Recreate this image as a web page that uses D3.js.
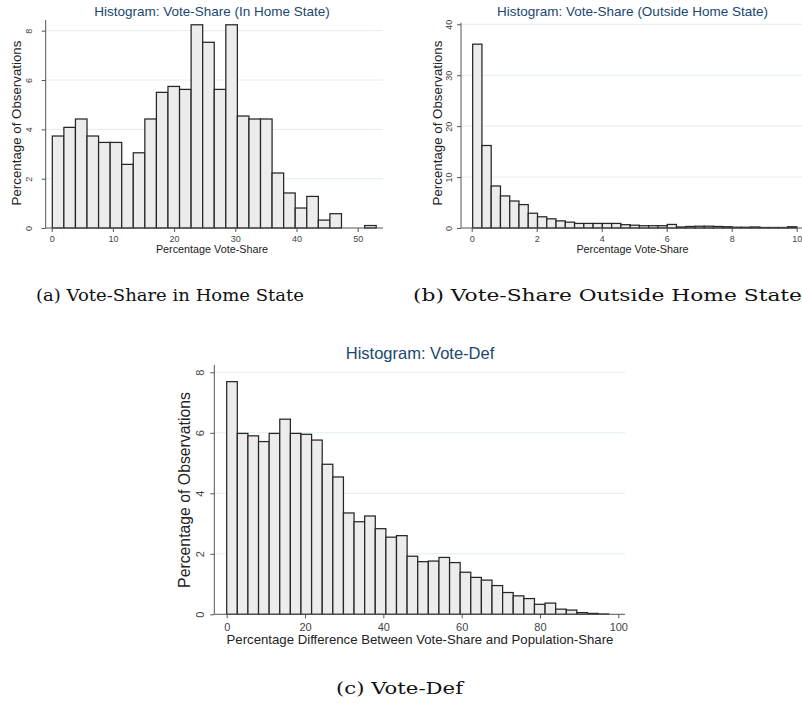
<!DOCTYPE html>
<html>
<head>
<meta charset="utf-8">
<script src="https://cdn.jsdelivr.net/npm/d3@7"></script>
<style>
  body { margin: 0; background: #fff; }
  svg { display: block; }
</style>
</head>
<body>
<svg id="fig" width="802" height="704"></svg>
<script>
// bar heights (percentage of observations)
var homeShare = [3.73, 4.08, 4.42, 3.73, 3.47, 3.47, 2.58, 3.05, 4.42, 5.5, 5.74, 5.62, 8.24, 7.53,
  5.62, 8.24, 4.54, 4.42, 4.42, 2.23, 1.42, 0.81, 1.28, 0.32, 0.58, 0, 0, 0.1];
var homeBin = { start: 0.1, width: 1.89 };

var outsideShare = [36.1, 16.2, 8.25, 6.3, 5.3, 4.6, 2.9, 2.2, 1.8, 1.4, 1.15, 0.9, 0.9, 0.9, 0.9,
  0.9, 0.65, 0.55, 0.45, 0.45, 0.45, 0.7, 0.2, 0.3, 0.35, 0.35, 0.3, 0.25, 0.15, 0.15, 0.2, 0.1,
  0.1, 0.1, 0.25];
var outsideBin = { start: 0.03, width: 0.285 };

var voteDef = [7.69, 5.98, 5.9, 5.71, 5.98, 6.45, 5.98, 5.95, 5.76, 4.96, 4.54, 3.35, 3.06, 3.25,
  2.83, 2.55, 2.6, 1.92, 1.74, 1.76, 1.88, 1.71, 1.39, 1.22, 1.13, 0.95, 0.72, 0.61, 0.52, 0.33,
  0.37, 0.17, 0.14, 0.055, 0.03, 0.01];
var defBin = { start: 0, width: 2.71 };

var homeXTicks = [0, 10, 20, 30, 40, 50], homeYTicks = [0, 2, 4, 6, 8];
var outsideXTicks = [0, 2, 4, 6, 8, 10], outsideYTicks = [0, 10, 20, 30, 40];
var defXTicks = [0, 20, 40, 60, 80, 100], defYTicks = [0, 2, 4, 6, 8];

var titles = ["Histogram: Vote-Share (In Home State)", "Histogram: Vote-Share (Outside Home State)",
  "Histogram: Vote-Def"];
var xTitles = ["Percentage Vote-Share", "Percentage Vote-Share",
  "Percentage Difference Between Vote-Share and Population-Share"];
var yTitle = "Percentage of Observations";
var captions = ["(a) Vote-Share in Home State", "(b)  Vote-Share Outside Home State", "(c)  Vote-Def"];

var svg = d3.select('#fig');
var sans = '"Liberation Sans", Arial, sans-serif';

function histogram(o) {
  var g = svg.append('g');
  var x = d3.scaleLinear().domain(o.xDom).range(o.xRange);
  var y = d3.scaleLinear().domain(o.yDom).range(o.yRange);

  // faint grid lines
  g.selectAll('line.grid').data(o.yTicks.filter(function (d) { return d > 0; }))
    .enter().append('line')
    .attr('x1', o.axisX[0]).attr('x2', o.axisX[1])
    .attr('y1', function (d) { return y(d); }).attr('y2', function (d) { return y(d); })
    .attr('stroke', '#e3eded').attr('stroke-width', 1);

  var bins = o.vals.map(function (v, i) {
    return { x0: o.bin.start + i * o.bin.width, x1: o.bin.start + (i + 1) * o.bin.width, v: v };
  }).filter(function (b) { return b.v > 0; });

  g.selectAll('rect').data(bins).enter().append('rect')
    .attr('x', function (d) { return x(d.x0); })
    .attr('width', function (d) { return x(d.x1) - x(d.x0); })
    .attr('y', function (d) { return y(d.v); })
    .attr('height', function (d) { return y(0) - y(d.v); })
    .attr('fill', '#ececec').attr('stroke', '#262626').attr('stroke-width', 1.25);

  // axis lines
  g.append('line').attr('x1', o.axisX[0]).attr('x2', o.axisX[1])
    .attr('y1', y(0)).attr('y2', y(0)).attr('stroke', '#555');
  g.append('line').attr('x1', o.axisX[0]).attr('x2', o.axisX[0])
    .attr('y1', y(0)).attr('y2', o.axisTop).attr('stroke', '#555');

  var xa = g.append('g').attr('transform', 'translate(0,' + y(0) + ')')
    .call(d3.axisBottom(x).tickValues(o.xTicks).tickSize(4));
  xa.select('.domain').remove();
  xa.selectAll('line').attr('stroke', '#555');
  xa.selectAll('text').attr('y', o.xLabOff).attr('dy', 0)
    .attr('font-family', sans).attr('font-size', o.tickFont).attr('fill', '#444');

  var ya = g.append('g').attr('transform', 'translate(' + o.axisX[0] + ',0)')
    .call(d3.axisLeft(y).tickValues(o.yTicks).tickSize(4));
  ya.select('.domain').remove();
  ya.selectAll('line').attr('stroke', '#555');
  ya.selectAll('text').attr('transform', 'rotate(-90)').attr('x', 0).attr('y', -o.yLabOff)
    .attr('dy', 0).attr('text-anchor', 'middle')
    .attr('font-family', sans).attr('font-size', o.tickFont).attr('fill', '#444');

  g.append('text').attr('x', o.titlePos[0]).attr('y', o.titlePos[1])
    .attr('text-anchor', 'middle').attr('font-family', sans).attr('font-size', o.titleFont)
    .attr('fill', '#1a476f').text(o.title);
  g.append('text').attr('x', o.xTitlePos[0]).attr('y', o.xTitlePos[1])
    .attr('text-anchor', 'middle').attr('font-family', sans).attr('font-size', o.xTitleFont)
    .attr('fill', '#222').text(o.xTitle);
  g.append('text')
    .attr('transform', 'translate(' + o.yTitlePos[0] + ',' + o.yTitlePos[1] + ') rotate(-90)')
    .attr('text-anchor', 'middle').attr('font-family', sans).attr('font-size', o.yTitleFont)
    .attr('fill', '#222').text(yTitle);
}

histogram({
  vals: homeShare, bin: homeBin, xTicks: homeXTicks, yTicks: homeYTicks,
  xDom: [0, 50], xRange: [51.7, 357.7], yDom: [0, 8], yRange: [228, 30.7],
  axisX: [45.7, 383], axisTop: 20, xLabOff: 13.5, yLabOff: 14, tickFont: 9,
  title: titles[0], titlePos: [212, 16], titleFont: 13.5,
  xTitle: xTitles[0], xTitlePos: [212, 253], xTitleFont: 10.8,
  yTitlePos: [21, 123], yTitleFont: 13.3
});

histogram({
  vals: outsideShare, bin: outsideBin, xTicks: outsideXTicks, yTicks: outsideYTicks,
  xDom: [0, 10], xRange: [471.7, 796.7], yDom: [0, 40], yRange: [228, 24.3],
  axisX: [461, 802], axisTop: 22.7, xLabOff: 13.5, yLabOff: 9, tickFont: 9,
  title: titles[1], titlePos: [632.5, 16], titleFont: 13.5,
  xTitle: xTitles[1], xTitlePos: [632.5, 253], xTitleFont: 10.8,
  yTitlePos: [441.5, 123], yTitleFont: 13.3
});

histogram({
  vals: voteDef, bin: defBin, xTicks: defXTicks, yTicks: defYTicks,
  xDom: [0, 100], xRange: [226.7, 618.3], yDom: [0, 8], yRange: [614.3, 372.3],
  axisX: [214.3, 625], axisTop: 365, xLabOff: 16.5, yLabOff: 10, tickFont: 11,
  title: titles[2], titlePos: [420, 359], titleFont: 16.5,
  xTitle: xTitles[2], xTitlePos: [420, 644], xTitleFont: 13.2,
  yTitlePos: [190, 490], yTitleFont: 15.8
});

// sub-figure captions
var capPos = [[36, 301, 268], [413, 301, 389], [336, 694, 127]];
svg.selectAll('text.cap').data(captions).enter().append('text')
  .attr('class', 'cap')
  .attr('x', function (d, i) { return capPos[i][0]; })
  .attr('y', function (d, i) { return capPos[i][1]; })
  .attr('textLength', function (d, i) { return capPos[i][2]; })
  .attr('lengthAdjust', 'spacingAndGlyphs')
  .attr('font-family', '"DejaVu Serif", "Liberation Serif", serif')
  .attr('font-size', 17.5).attr('fill', '#111')
  .text(function (d) { return d; });
</script>
</body>
</html>
